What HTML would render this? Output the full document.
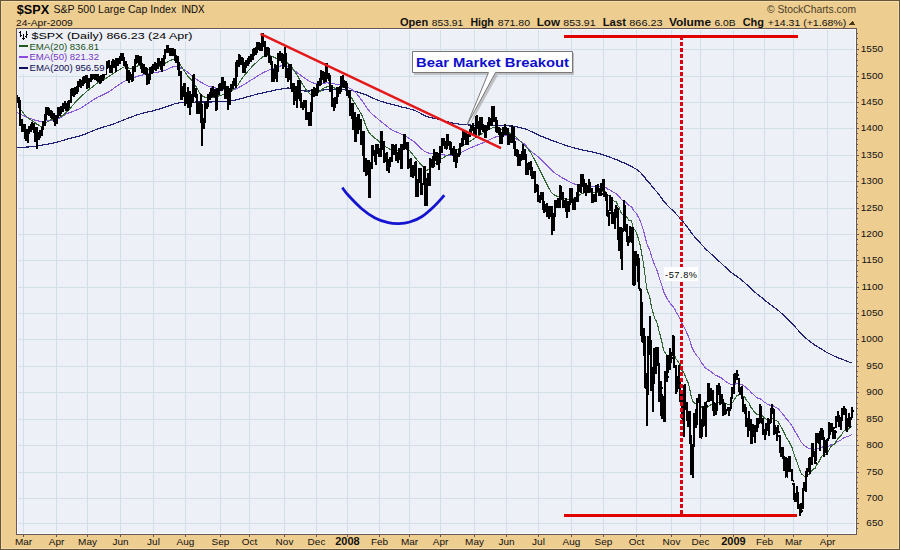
<!DOCTYPE html><html><head><meta charset="utf-8"><title>SPX</title><style>
html,body{margin:0;padding:0;width:900px;height:550px;overflow:hidden;background:#EECD90}
svg{display:block}text{font-family:"Liberation Sans",sans-serif}
</style></head><body>
<svg width="900" height="550" viewBox="0 0 900 550" shape-rendering="crispEdges">
<rect x="0" y="0" width="900" height="550" fill="#EECD90"/>
<rect x="0" y="1" width="900" height="1" fill="#F3DDA8"/>
<rect x="898" y="0" width="1" height="550" fill="#F2DCAE"/>
<rect x="1" y="0" width="1" height="550" fill="#F2D8A4"/>
<rect x="0" y="548" width="900" height="1" fill="#F2DCAE"/>
<rect x="0" y="0" width="900" height="1" fill="#64543A"/>
<rect x="0" y="0" width="1" height="550" fill="#64543A"/>
<rect x="899" y="0" width="1" height="550" fill="#64543A"/>
<rect x="0" y="549" width="900" height="1" fill="#64543A"/>
<rect x="16" y="28" width="841" height="507" fill="#EEF0F8"/>
<path d="M17 523.5H856M17 498.5H856M17 472.5H856M17 445.5H856M17 419.5H856M17 392.5H856M17 366.5H856M17 339.5H856M17 313.5H856M17 287.5H856M17 260.5H856M17 234.5H856M17 208.5H856M17 181.5H856M17 155.5H856M17 128.5H856M17 102.5H856M17 76.5H856M17 49.5H856M23.5 29V534M56.5 29V534M87.5 29V534M120.5 29V534M153.5 29V534M185.5 29V534M220.5 29V534M249.5 29V534M284.5 29V534M316.5 29V534M347.5 29V534M379.5 29V534M409.5 29V534M440.5 29V534M474.5 29V534M506.5 29V534M538.5 29V534M571.5 29V534M603.5 29V534M636.5 29V534M671.5 29V534M700.5 29V534M733.5 29V534M764.5 29V534M793.5 29V534M827.5 29V534" stroke="#D2DEE8" stroke-width="1" fill="none"/>
<path d="M17.5 29V533M17 29.5H856M855.5 29V533M17 533.5H856" stroke="#FAFAFF" stroke-width="1" fill="none"/>
<rect x="16.5" y="28.5" width="840" height="506" fill="none" stroke="#66575A" stroke-width="1"/>
<path d="M857 528.5h1M857 523.5h2M857 518.5h1M857 513.5h1M857 508.5h1M857 503.5h1M857 498.5h2M857 493.5h1M857 488.5h1M857 482.5h1M857 477.5h1M857 472.5h2M857 467.5h1M857 461.5h1M857 456.5h1M857 450.5h1M857 445.5h2M857 440.5h1M857 435.5h1M857 429.5h1M857 424.5h1M857 419.5h2M857 414.5h1M857 408.5h1M857 403.5h1M857 397.5h1M857 392.5h2M857 387.5h1M857 382.5h1M857 376.5h1M857 371.5h1M857 366.5h2M857 361.5h1M857 355.5h1M857 350.5h1M857 344.5h1M857 339.5h2M857 334.5h1M857 329.5h1M857 323.5h1M857 318.5h1M857 313.5h2M857 308.5h1M857 303.5h1M857 297.5h1M857 292.5h1M857 287.5h2M857 282.5h1M857 276.5h1M857 271.5h1M857 265.5h1M857 260.5h2M857 255.5h1M857 250.5h1M857 244.5h1M857 239.5h1M857 234.5h2M857 229.5h1M857 224.5h1M857 218.5h1M857 213.5h1M857 208.5h2M857 203.5h1M857 197.5h1M857 192.5h1M857 186.5h1M857 181.5h2M857 176.5h1M857 171.5h1M857 165.5h1M857 160.5h1M857 155.5h2M857 150.5h1M857 144.5h1M857 139.5h1M857 133.5h1M857 128.5h2M857 123.5h1M857 118.5h1M857 112.5h1M857 107.5h1M857 102.5h2M857 97.5h1M857 92.5h1M857 86.5h1M857 81.5h1M857 76.5h2M857 71.5h1M857 65.5h1M857 60.5h1M857 54.5h1M857 49.5h2M857 44.5h1M857 38.5h1M857 33.5h1M23.5 535v2M56.5 535v2M87.5 535v2M120.5 535v2M153.5 535v2M185.5 535v2M220.5 535v2M249.5 535v2M284.5 535v2M316.5 535v2M347.5 535v2M379.5 535v2M409.5 535v2M440.5 535v2M474.5 535v2M506.5 535v2M538.5 535v2M571.5 535v2M603.5 535v2M636.5 535v2M671.5 535v2M700.5 535v2M733.5 535v2M764.5 535v2M793.5 535v2M827.5 535v2" stroke="#66575A" stroke-width="1" fill="none"/>
<g font-size="10" fill="#111" text-anchor="end"><text transform="translate(883 526) scale(1 0.93)">650</text><text transform="translate(883 501) scale(1 0.93)">700</text><text transform="translate(883 475) scale(1 0.93)">750</text><text transform="translate(883 448) scale(1 0.93)">800</text><text transform="translate(883 422) scale(1 0.93)">850</text><text transform="translate(883 395) scale(1 0.93)">900</text><text transform="translate(883 369) scale(1 0.93)">950</text><text transform="translate(883 342) scale(1 0.93)">1000</text><text transform="translate(883 316) scale(1 0.93)">1050</text><text transform="translate(883 290) scale(1 0.93)">1100</text><text transform="translate(883 263) scale(1 0.93)">1150</text><text transform="translate(883 237) scale(1 0.93)">1200</text><text transform="translate(883 211) scale(1 0.93)">1250</text><text transform="translate(883 184) scale(1 0.93)">1300</text><text transform="translate(883 158) scale(1 0.93)">1350</text><text transform="translate(883 131) scale(1 0.93)">1400</text><text transform="translate(883 105) scale(1 0.93)">1450</text><text transform="translate(883 79) scale(1 0.93)">1500</text><text transform="translate(883 52) scale(1 0.93)">1550</text></g>
<g font-size="10" fill="#111"><text transform="translate(23.5 545) scale(1 0.9)" text-anchor="middle">Mar</text><text transform="translate(56.5 545) scale(1 0.9)" text-anchor="middle">Apr</text><text transform="translate(87.5 545) scale(1 0.9)" text-anchor="middle">May</text><text transform="translate(120.5 545) scale(1 0.9)" text-anchor="middle">Jun</text><text transform="translate(153.5 545) scale(1 0.9)" text-anchor="middle">Jul</text><text transform="translate(185.5 545) scale(1 0.9)" text-anchor="middle">Aug</text><text transform="translate(220.5 545) scale(1 0.9)" text-anchor="middle">Sep</text><text transform="translate(249.5 545) scale(1 0.9)" text-anchor="middle">Oct</text><text transform="translate(284.5 545) scale(1 0.9)" text-anchor="middle">Nov</text><text transform="translate(316.5 545) scale(1 0.9)" text-anchor="middle">Dec</text><text x="347.5" y="545" text-anchor="middle" font-weight="bold" font-size="11">2008</text><text transform="translate(379.5 545) scale(1 0.9)" text-anchor="middle">Feb</text><text transform="translate(409.5 545) scale(1 0.9)" text-anchor="middle">Mar</text><text transform="translate(440.5 545) scale(1 0.9)" text-anchor="middle">Apr</text><text transform="translate(474.5 545) scale(1 0.9)" text-anchor="middle">May</text><text transform="translate(506.5 545) scale(1 0.9)" text-anchor="middle">Jun</text><text transform="translate(538.5 545) scale(1 0.9)" text-anchor="middle">Jul</text><text transform="translate(571.5 545) scale(1 0.9)" text-anchor="middle">Aug</text><text transform="translate(603.5 545) scale(1 0.9)" text-anchor="middle">Sep</text><text transform="translate(636.5 545) scale(1 0.9)" text-anchor="middle">Oct</text><text transform="translate(671.5 545) scale(1 0.9)" text-anchor="middle">Nov</text><text transform="translate(700.5 545) scale(1 0.9)" text-anchor="middle">Dec</text><text x="733.5" y="545" text-anchor="middle" font-weight="bold" font-size="11">2009</text><text transform="translate(764.5 545) scale(1 0.9)" text-anchor="middle">Feb</text><text transform="translate(793.5 545) scale(1 0.9)" text-anchor="middle">Mar</text><text transform="translate(827.5 545) scale(1 0.9)" text-anchor="middle">Apr</text></g>
<defs><clipPath id="cc"><rect x="17" y="29" width="839" height="505"/></clipPath></defs>
<g clip-path="url(#cc)">
<path d="M16.00 147.80C19.00 147.57 28.33 147.08 34.00 146.40C39.67 145.72 46.22 144.38 50.00 143.70C53.78 143.02 53.37 143.20 56.70 142.30C60.03 141.40 65.78 139.47 70.00 138.30C74.22 137.13 77.55 136.80 82.00 135.30C86.45 133.80 91.48 131.18 96.70 129.30C101.92 127.42 108.30 125.77 113.30 124.00C118.30 122.23 122.25 120.37 126.70 118.70C131.15 117.03 135.57 115.33 140.00 114.00C144.43 112.67 149.13 111.82 153.30 110.70C157.47 109.58 161.38 108.47 165.00 107.30C168.62 106.13 171.88 104.53 175.00 103.70C178.12 102.87 180.37 102.57 183.70 102.30C187.03 102.03 189.62 102.18 195.00 102.10C200.38 102.02 209.50 102.08 216.00 101.80C222.50 101.52 228.40 101.33 234.00 100.40C239.60 99.47 244.57 97.52 249.60 96.20C254.63 94.88 258.13 93.83 264.20 92.50C270.27 91.17 281.62 88.83 286.00 88.20C290.38 87.57 287.33 88.23 290.50 88.70C293.67 89.17 300.15 90.75 305.00 91.00C309.85 91.25 314.73 90.45 319.60 90.20C324.47 89.95 329.35 89.50 334.20 89.50C339.05 89.50 345.07 89.85 348.70 90.20C352.33 90.55 353.28 90.88 356.00 91.60C358.72 92.32 361.00 92.93 365.00 94.50C369.00 96.07 374.17 99.00 380.00 101.00C385.83 103.00 394.17 104.92 400.00 106.50C405.83 108.08 410.67 108.88 415.00 110.50C419.33 112.12 421.75 114.65 426.00 116.20C430.25 117.75 435.67 118.58 440.50 119.80C445.33 121.02 450.15 122.63 455.00 123.50C459.85 124.37 464.73 124.65 469.60 125.00C474.47 125.35 477.38 125.43 484.20 125.60C491.02 125.77 503.70 125.45 510.50 126.00C517.30 126.55 520.15 127.32 525.00 128.90C529.85 130.48 534.73 133.43 539.60 135.50C544.47 137.57 548.13 139.13 554.20 141.30C560.27 143.47 569.20 146.63 576.00 148.50C582.80 150.37 590.33 151.37 595.00 152.50C599.67 153.63 602.27 154.76 604.03 155.29C605.79 155.82 605.05 155.52 605.56 155.69C606.07 155.85 606.58 156.08 607.09 156.27C607.60 156.46 608.11 156.66 608.62 156.83C609.13 156.99 609.64 157.07 610.15 157.24C610.65 157.42 611.16 157.67 611.67 157.88C612.18 158.08 612.69 158.28 613.20 158.46C613.71 158.64 614.22 158.80 614.73 158.96C615.24 159.12 615.75 159.22 616.26 159.43C616.77 159.64 617.28 159.96 617.79 160.20C618.30 160.44 618.81 160.59 619.32 160.86C619.82 161.13 620.33 161.54 620.84 161.81C621.35 162.08 621.86 162.30 622.37 162.49C622.88 162.67 623.39 162.73 623.90 162.91C624.41 163.09 624.92 163.34 625.43 163.57C625.94 163.81 626.45 164.08 626.96 164.33C627.47 164.59 627.98 164.86 628.49 165.09C628.99 165.32 629.50 165.52 630.01 165.72C630.52 165.93 631.03 166.04 631.54 166.33C632.05 166.62 632.56 167.15 633.07 167.48C633.58 167.82 634.09 168.04 634.60 168.32C635.11 168.60 635.62 168.84 636.13 169.17C636.64 169.49 637.15 169.88 637.66 170.25C638.16 170.63 638.67 170.99 639.18 171.40C639.69 171.82 640.20 172.26 640.71 172.77C641.22 173.27 641.73 173.87 642.24 174.43C642.75 174.99 643.26 175.50 643.77 176.13C644.28 176.76 644.79 177.50 645.30 178.20C645.81 178.90 646.32 179.69 646.83 180.31C647.33 180.92 647.84 181.34 648.35 181.87C648.86 182.40 649.37 182.87 649.88 183.49C650.39 184.11 650.90 184.92 651.41 185.58C651.92 186.24 652.43 186.82 652.94 187.44C653.45 188.06 653.96 188.73 654.47 189.32C654.98 189.90 655.49 190.37 656.00 190.93C656.51 191.49 657.01 192.05 657.52 192.69C658.03 193.33 658.54 194.08 659.05 194.75C659.56 195.42 660.07 196.04 660.58 196.72C661.09 197.40 661.60 198.11 662.11 198.84C662.62 199.57 663.13 200.43 663.64 201.10C664.15 201.76 664.66 202.25 665.17 202.83C665.68 203.42 666.18 204.04 666.69 204.61C667.20 205.17 667.71 205.71 668.22 206.24C668.73 206.76 669.24 207.26 669.75 207.77C670.26 208.27 670.77 208.81 671.28 209.27C671.79 209.73 672.30 210.07 672.81 210.53C673.32 211.00 673.83 211.51 674.34 212.05C674.85 212.60 675.35 213.25 675.86 213.81C676.37 214.37 676.88 214.87 677.39 215.41C677.90 215.95 678.41 216.49 678.92 217.05C679.43 217.62 679.94 218.18 680.45 218.79C680.96 219.41 681.47 220.15 681.98 220.75C682.49 221.35 683.00 221.81 683.51 222.38C684.02 222.95 684.52 223.57 685.03 224.19C685.54 224.81 686.05 225.48 686.56 226.11C687.07 226.73 687.58 227.30 688.09 227.95C688.60 228.61 689.11 229.31 689.62 230.06C690.13 230.80 690.64 231.68 691.15 232.42C691.66 233.16 692.17 233.86 692.68 234.51C693.19 235.16 693.69 235.72 694.20 236.32C694.71 236.91 695.22 237.52 695.73 238.07C696.24 238.63 696.75 239.14 697.26 239.66C697.77 240.17 698.28 240.60 698.79 241.18C699.30 241.75 699.81 242.49 700.32 243.10C700.83 243.71 701.34 244.27 701.85 244.83C702.36 245.39 702.86 245.88 703.37 246.43C703.88 246.99 704.39 247.61 704.90 248.15C705.41 248.70 705.92 249.21 706.43 249.69C706.94 250.18 707.45 250.58 707.96 251.05C708.47 251.51 708.98 252.03 709.49 252.50C710.00 252.97 710.51 253.40 711.02 253.88C711.53 254.35 712.04 254.88 712.54 255.37C713.05 255.87 713.56 256.33 714.07 256.82C714.58 257.31 715.09 257.86 715.60 258.32C716.11 258.78 716.62 259.14 717.13 259.57C717.64 259.99 718.15 260.41 718.66 260.86C719.17 261.31 719.68 261.81 720.19 262.28C720.70 262.75 721.21 263.20 721.71 263.68C722.22 264.15 722.73 264.65 723.24 265.14C723.75 265.63 724.26 266.14 724.77 266.64C725.28 267.13 725.79 267.61 726.30 268.09C726.81 268.57 727.32 269.03 727.83 269.50C728.34 269.97 728.85 270.47 729.36 270.92C729.87 271.37 730.38 271.80 730.88 272.22C731.39 272.63 731.90 273.05 732.41 273.43C732.92 273.80 733.43 274.12 733.94 274.47C734.45 274.82 734.96 275.18 735.47 275.53C735.98 275.87 736.49 276.18 737.00 276.53C737.51 276.89 738.02 277.30 738.53 277.68C739.04 278.06 739.55 278.41 740.05 278.80C740.56 279.19 741.07 279.59 741.58 280.01C742.09 280.43 742.60 280.89 743.11 281.32C743.62 281.75 744.13 282.15 744.64 282.61C745.15 283.06 745.66 283.57 746.17 284.04C746.68 284.51 747.19 284.99 747.70 285.45C748.21 285.91 748.72 286.33 749.22 286.81C749.73 287.30 750.24 287.89 750.75 288.37C751.26 288.85 751.77 289.26 752.28 289.71C752.79 290.16 753.30 290.64 753.81 291.09C754.32 291.55 754.83 292.00 755.34 292.45C755.85 292.89 756.36 293.33 756.87 293.76C757.38 294.19 757.89 294.63 758.40 295.02C758.90 295.41 759.41 295.73 759.92 296.11C760.43 296.50 760.94 296.92 761.45 297.35C761.96 297.77 762.47 298.23 762.98 298.67C763.49 299.11 764.00 299.55 764.51 299.98C765.02 300.40 765.53 300.80 766.04 301.21C766.55 301.62 767.06 302.06 767.57 302.46C768.07 302.86 768.58 303.26 769.09 303.63C769.60 304.00 770.11 304.33 770.62 304.67C771.13 305.01 771.64 305.31 772.15 305.69C772.66 306.07 773.17 306.52 773.68 306.92C774.19 307.32 774.70 307.72 775.21 308.11C775.72 308.50 776.23 308.88 776.74 309.28C777.24 309.67 777.75 310.05 778.26 310.48C778.77 310.91 779.28 311.40 779.79 311.86C780.30 312.32 780.81 312.77 781.32 313.23C781.83 313.69 782.34 314.16 782.85 314.63C783.36 315.11 783.87 315.57 784.38 316.07C784.89 316.57 785.40 317.14 785.91 317.63C786.41 318.13 786.92 318.56 787.43 319.03C787.94 319.50 788.45 319.97 788.96 320.45C789.47 320.93 789.98 321.42 790.49 321.92C791.00 322.42 791.51 322.92 792.02 323.47C792.53 324.01 793.04 324.61 793.55 325.18C794.06 325.75 794.57 326.34 795.08 326.89C795.58 327.45 796.09 327.95 796.60 328.51C797.11 329.07 797.62 329.68 798.13 330.26C798.64 330.84 799.15 331.42 799.66 331.99C800.17 332.57 800.68 333.20 801.19 333.74C801.70 334.28 802.21 334.75 802.72 335.25C803.23 335.75 803.74 336.27 804.25 336.73C804.75 337.20 805.26 337.62 805.77 338.05C806.28 338.48 806.79 338.89 807.30 339.32C807.81 339.75 808.32 340.23 808.83 340.64C809.34 341.06 809.85 341.45 810.36 341.82C810.87 342.20 811.38 342.53 811.89 342.90C812.40 343.27 812.91 343.64 813.42 344.03C813.93 344.42 814.43 344.88 814.94 345.23C815.45 345.57 815.96 345.81 816.47 346.12C816.98 346.43 817.49 346.78 818.00 347.10C818.51 347.41 819.02 347.73 819.53 348.02C820.04 348.31 820.55 348.55 821.06 348.84C821.57 349.12 822.08 349.41 822.59 349.73C823.10 350.06 823.60 350.44 824.11 350.77C824.62 351.11 825.13 351.43 825.64 351.74C826.15 352.05 826.66 352.36 827.17 352.64C827.68 352.91 828.19 353.15 828.70 353.40C829.21 353.64 829.72 353.86 830.23 354.10C830.74 354.35 831.25 354.58 831.76 354.85C832.27 355.11 832.77 355.42 833.28 355.69C833.79 355.96 834.30 356.23 834.81 356.46C835.32 356.69 835.83 356.87 836.34 357.07C836.85 357.26 837.36 357.44 837.87 357.65C838.38 357.86 838.89 358.11 839.40 358.32C839.91 358.53 840.42 358.74 840.93 358.93C841.44 359.12 841.94 359.29 842.45 359.46C842.96 359.63 843.47 359.76 843.98 359.96C844.49 360.16 845.00 360.44 845.51 360.66C846.02 360.87 846.53 361.04 847.04 361.25C847.55 361.45 848.06 361.67 848.57 361.87C849.08 362.07 849.59 362.27 850.10 362.45C850.61 362.63 851.37 362.86 851.62 362.94" fill="none" stroke="#222272" stroke-width="1.2" shape-rendering="crispEdges"/>
<path d="M16.00 112.20C17.82 113.02 23.27 115.65 26.90 117.10C30.53 118.55 34.53 120.27 37.80 120.90C41.07 121.53 42.87 121.35 46.50 120.90C50.13 120.45 56.35 119.35 59.60 118.20C62.85 117.05 62.60 115.62 66.00 114.00C69.40 112.38 75.08 111.08 80.00 108.50C84.92 105.92 90.83 101.22 95.50 98.50C100.17 95.78 103.75 94.73 108.00 92.20C112.25 89.67 117.83 85.33 121.00 83.30C124.17 81.27 123.83 81.28 127.00 80.00C130.17 78.72 136.08 76.68 140.00 75.60C143.92 74.52 146.33 74.35 150.50 73.50C154.67 72.65 161.35 71.58 165.00 70.50C168.65 69.42 169.97 67.48 172.40 67.00C174.83 66.52 177.17 66.85 179.60 67.60C182.03 68.35 184.87 70.03 187.00 71.50C189.13 72.97 189.98 74.57 192.40 76.40C194.82 78.23 198.78 80.87 201.50 82.50C204.22 84.13 205.32 85.10 208.70 86.20C212.08 87.30 217.43 88.60 221.80 89.10C226.17 89.60 230.27 90.55 234.90 89.20C239.53 87.85 244.72 83.83 249.60 81.00C254.48 78.17 259.35 74.63 264.20 72.20C269.05 69.77 275.28 67.40 278.70 66.40C282.12 65.40 282.73 66.00 284.70 66.20C286.67 66.40 287.12 65.55 290.50 67.60C293.88 69.65 300.87 75.83 305.00 78.50C309.13 81.17 311.65 82.87 315.30 83.60C318.95 84.33 323.28 82.77 326.90 82.90C330.52 83.03 333.85 83.80 337.00 84.40C340.15 85.00 342.80 85.23 345.80 86.50C348.80 87.77 352.13 89.42 355.00 92.00C357.87 94.58 360.50 98.67 363.00 102.00C365.50 105.33 367.50 109.17 370.00 112.00C372.50 114.83 375.67 117.00 378.00 119.00C380.33 121.00 381.60 122.13 384.00 124.00C386.40 125.87 389.07 128.32 392.40 130.20C395.73 132.08 400.37 133.37 404.00 135.30C407.63 137.23 410.57 139.02 414.20 141.80C417.83 144.58 421.42 149.85 425.80 152.00C430.18 154.15 435.63 154.25 440.50 154.70C445.37 155.15 450.15 155.78 455.00 154.70C459.85 153.62 464.73 150.25 469.60 148.20C474.47 146.15 479.80 144.28 484.20 142.40C488.60 140.52 491.62 137.93 496.00 136.90C500.38 135.87 506.87 135.72 510.50 136.20C514.13 136.68 515.38 138.42 517.80 139.80C520.22 141.18 522.97 142.72 525.00 144.50C527.03 146.28 527.57 148.25 530.00 150.50C532.43 152.75 535.57 154.33 539.60 158.00C543.63 161.67 549.35 168.62 554.20 172.50C559.05 176.38 564.92 179.27 568.70 181.30C572.48 183.33 573.10 183.88 576.90 184.70C580.70 185.52 586.98 185.79 591.50 186.20C596.02 186.61 601.69 186.96 604.03 187.18C606.37 187.39 605.05 187.24 605.56 187.48C606.07 187.72 606.58 188.26 607.09 188.60C607.60 188.95 608.11 189.33 608.62 189.55C609.13 189.77 609.64 189.66 610.15 189.94C610.65 190.21 611.16 190.82 611.67 191.21C612.18 191.60 612.69 191.99 613.20 192.27C613.71 192.56 614.22 192.73 614.73 192.93C615.24 193.14 615.75 193.11 616.26 193.50C616.77 193.89 617.28 194.78 617.79 195.29C618.30 195.81 618.81 195.95 619.32 196.57C619.82 197.20 620.33 198.41 620.84 199.03C621.35 199.66 621.86 200.07 622.37 200.31C622.88 200.56 623.39 200.29 623.90 200.53C624.41 200.77 624.92 201.29 625.43 201.75C625.94 202.22 626.45 202.81 626.96 203.33C627.47 203.85 627.98 204.46 628.49 204.89C628.99 205.31 629.50 205.56 630.01 205.88C630.52 206.19 631.03 206.10 631.54 206.76C632.05 207.42 632.56 209.04 633.07 209.83C633.58 210.62 634.09 210.93 634.60 211.49C635.11 212.05 635.62 212.47 636.13 213.19C636.64 213.90 637.15 214.88 637.66 215.78C638.16 216.67 638.67 217.51 639.18 218.57C639.69 219.63 640.20 220.77 640.71 222.13C641.22 223.50 641.73 225.22 642.24 226.78C642.75 228.33 643.26 229.68 643.77 231.46C644.28 233.25 644.79 235.49 645.30 237.50C645.81 239.51 646.32 241.90 646.83 243.52C647.33 245.13 647.84 245.97 648.35 247.18C648.86 248.40 649.37 249.31 649.88 250.80C650.39 252.30 650.90 254.53 651.41 256.14C651.92 257.75 652.43 259.01 652.94 260.47C653.45 261.93 653.96 263.62 654.47 264.92C654.98 266.21 655.49 267.05 656.00 268.24C656.51 269.43 657.01 270.61 657.52 272.06C658.03 273.52 658.54 275.43 659.05 276.99C659.56 278.55 660.07 279.88 660.58 281.45C661.09 283.02 661.60 284.71 662.11 286.41C662.62 288.10 663.13 290.24 663.64 291.63C664.15 293.01 664.66 293.66 665.17 294.71C665.68 295.75 666.18 296.93 666.69 297.89C667.20 298.85 667.71 299.67 668.22 300.46C668.73 301.25 669.24 301.91 669.75 302.62C670.26 303.34 670.77 304.20 671.28 304.76C671.79 305.33 672.30 305.43 672.81 306.02C673.32 306.62 673.83 307.40 674.34 308.32C674.85 309.23 675.35 310.54 675.86 311.50C676.37 312.45 676.88 313.16 677.39 314.02C677.90 314.88 678.41 315.73 678.92 316.67C679.43 317.61 679.94 318.52 680.45 319.65C680.96 320.78 681.47 322.40 681.98 323.44C682.49 324.48 683.00 324.96 683.51 325.89C684.02 326.82 684.52 327.91 685.03 329.01C685.54 330.11 686.05 331.38 686.56 332.48C687.07 333.59 687.58 334.42 688.09 335.63C688.60 336.84 689.11 338.19 689.62 339.75C690.13 341.31 690.64 343.45 691.15 344.99C691.66 346.54 692.17 347.88 692.68 349.01C693.19 350.15 693.69 350.91 694.20 351.79C694.71 352.68 695.22 353.61 695.73 354.34C696.24 355.07 696.75 355.59 697.26 356.15C697.77 356.71 698.28 356.91 698.79 357.70C699.30 358.49 699.81 359.96 700.32 360.88C700.83 361.81 701.34 362.55 701.85 363.24C702.36 363.94 702.86 364.39 703.37 365.06C703.88 365.74 704.39 366.69 704.90 367.31C705.41 367.93 705.92 368.42 706.43 368.79C706.94 369.16 707.45 369.22 707.96 369.54C708.47 369.85 708.98 370.34 709.49 370.68C710.00 371.02 710.51 371.18 711.02 371.56C711.53 371.93 712.04 372.50 712.54 372.93C713.05 373.35 713.56 373.68 714.07 374.10C714.58 374.53 715.09 375.18 715.60 375.48C716.11 375.77 716.62 375.72 717.13 375.88C717.64 376.04 718.15 376.20 718.66 376.45C719.17 376.70 719.68 377.09 720.19 377.39C720.70 377.69 721.21 377.91 721.71 378.24C722.22 378.58 722.73 378.97 723.24 379.37C723.75 379.77 724.26 380.25 724.77 380.64C725.28 381.04 725.79 381.41 726.30 381.76C726.81 382.11 727.32 382.40 727.83 382.73C728.34 383.06 728.85 383.49 729.36 383.75C729.87 384.01 730.38 384.16 730.88 384.30C731.39 384.43 731.90 384.57 732.41 384.56C732.92 384.54 733.43 384.31 733.94 384.21C734.45 384.12 734.96 384.09 735.47 383.99C735.98 383.89 736.49 383.64 737.00 383.61C737.51 383.58 738.02 383.76 738.53 383.81C739.04 383.87 739.55 383.84 740.05 383.95C740.56 384.06 741.07 384.25 741.58 384.49C742.09 384.73 742.60 385.10 743.11 385.40C743.62 385.69 744.13 385.87 744.64 386.25C745.15 386.63 745.66 387.21 746.17 387.67C746.68 388.13 747.19 388.59 747.70 389.01C748.21 389.42 748.72 389.63 749.22 390.16C749.73 390.69 750.24 391.64 750.75 392.19C751.26 392.74 751.77 393.00 752.28 393.46C752.79 393.92 753.30 394.48 753.81 394.95C754.32 395.42 754.83 395.87 755.34 396.29C755.85 396.72 756.36 397.14 756.87 397.50C757.38 397.86 757.89 398.25 758.40 398.47C758.90 398.68 759.41 398.58 759.92 398.78C760.43 398.99 760.94 399.34 761.45 399.70C761.96 400.07 762.47 400.56 762.98 400.99C763.49 401.41 764.00 401.88 764.51 402.24C765.02 402.61 765.53 402.85 766.04 403.17C766.55 403.50 767.06 403.91 767.57 404.20C768.07 404.48 768.58 404.75 769.09 404.90C769.60 405.05 770.11 405.04 770.62 405.09C771.13 405.15 771.64 405.04 772.15 405.23C772.66 405.43 773.17 405.96 773.68 406.28C774.19 406.60 774.70 406.88 775.21 407.16C775.72 407.44 776.23 407.67 776.74 407.96C777.24 408.25 777.75 408.48 778.26 408.92C778.77 409.37 779.28 410.07 779.79 410.63C780.30 411.19 780.81 411.71 781.32 412.29C781.83 412.86 782.34 413.46 782.85 414.08C783.36 414.69 783.87 415.26 784.38 415.98C784.89 416.70 785.40 417.71 785.91 418.39C786.41 419.06 786.92 419.47 787.43 420.04C787.94 420.60 788.45 421.17 788.96 421.77C789.47 422.38 789.98 422.98 790.49 423.66C791.00 424.34 791.51 425.01 792.02 425.84C792.53 426.67 793.04 427.72 793.55 428.65C794.06 429.58 794.57 430.58 795.08 431.43C795.58 432.29 796.09 432.91 796.60 433.78C797.11 434.65 797.62 435.71 798.13 436.65C798.64 437.58 799.15 438.47 799.66 439.38C800.17 440.29 800.68 441.38 801.19 442.13C801.70 442.88 802.21 443.32 802.72 443.89C803.23 444.46 803.74 445.12 804.25 445.57C804.75 446.02 805.26 446.29 805.77 446.60C806.28 446.92 806.79 447.17 807.30 447.47C807.81 447.77 808.32 448.18 808.83 448.39C809.34 448.60 809.85 448.69 810.36 448.74C810.87 448.80 811.38 448.69 811.89 448.72C812.40 448.75 812.91 448.81 813.42 448.93C813.93 449.05 814.43 449.47 814.94 449.45C815.45 449.43 815.96 448.96 816.47 448.81C816.98 448.66 817.49 448.67 818.00 448.56C818.51 448.44 819.02 448.34 819.53 448.14C820.04 447.94 820.55 447.56 821.06 447.36C821.57 447.16 822.08 446.98 822.59 446.95C823.10 446.91 823.60 447.11 824.11 447.14C824.62 447.17 825.13 447.17 825.64 447.12C826.15 447.07 826.66 447.00 827.17 446.82C827.68 446.65 828.19 446.33 828.70 446.05C829.21 445.77 829.72 445.40 830.23 445.13C830.74 444.86 831.25 444.60 831.76 444.44C832.27 444.27 832.77 444.29 833.28 444.17C833.79 444.05 834.30 443.95 834.81 443.69C835.32 443.43 835.83 442.98 836.34 442.62C836.85 442.27 837.36 441.85 837.87 441.55C838.38 441.26 838.89 441.11 839.40 440.85C839.91 440.59 840.42 440.31 840.93 439.97C841.44 439.64 841.94 439.23 842.45 438.84C842.96 438.46 843.47 437.93 843.98 437.68C844.49 437.42 845.00 437.51 845.51 437.33C846.02 437.15 846.53 436.82 847.04 436.61C847.55 436.40 848.06 436.28 848.57 436.08C849.08 435.88 849.59 435.68 850.10 435.41C850.61 435.14 851.37 434.62 851.62 434.46" fill="none" stroke="#8858DA" stroke-width="1.1" shape-rendering="crispEdges"/>
<path d="M18.20 105.00C18.75 105.92 20.05 108.48 21.50 110.50C22.95 112.52 25.08 115.37 26.90 117.10C28.72 118.83 30.58 119.63 32.40 120.90C34.22 122.17 36.17 123.78 37.80 124.70C39.43 125.62 40.75 126.77 42.20 126.40C43.65 126.03 44.87 123.68 46.50 122.50C48.13 121.32 49.82 120.20 52.00 119.30C54.18 118.40 57.27 118.20 59.60 117.10C61.93 116.00 62.52 116.05 66.00 112.70C69.48 109.35 75.58 101.70 80.50 97.00C85.42 92.30 90.92 87.83 95.50 84.50C100.08 81.17 103.13 79.97 108.00 77.00C112.87 74.03 121.07 68.10 124.70 66.70C128.33 65.30 127.25 68.80 129.80 68.60C132.35 68.40 137.52 65.43 140.00 65.50C142.48 65.57 142.95 68.28 144.70 69.00C146.45 69.72 148.32 70.15 150.50 69.80C152.68 69.45 155.38 67.98 157.80 66.90C160.22 65.82 162.57 64.52 165.00 63.30C167.43 62.08 170.45 60.08 172.40 59.60C174.35 59.12 175.25 59.30 176.70 60.40C178.15 61.50 179.40 63.78 181.10 66.20C182.80 68.62 184.72 72.00 186.90 74.90C189.08 77.80 191.77 80.20 194.20 83.60C196.63 87.00 199.08 92.98 201.50 95.30C203.92 97.62 205.53 97.47 208.70 97.50C211.87 97.53 216.12 97.05 220.50 95.50C224.88 93.95 231.35 91.12 235.00 88.20C238.65 85.28 239.97 81.15 242.40 78.00C244.83 74.85 247.18 71.97 249.60 69.30C252.02 66.63 254.47 64.18 256.90 62.00C259.33 59.82 261.77 57.17 264.20 56.20C266.63 55.23 269.08 55.60 271.50 56.20C273.92 56.80 276.73 59.10 278.70 59.80C280.67 60.50 281.33 59.45 283.30 60.40C285.27 61.35 288.08 62.83 290.50 65.50C292.92 68.17 295.38 72.65 297.80 76.40C300.22 80.15 302.82 84.98 305.00 88.00C307.18 91.02 308.95 93.53 310.90 94.50C312.85 95.47 314.52 94.88 316.70 93.80C318.88 92.72 321.82 89.22 324.00 88.00C326.18 86.78 327.62 86.38 329.80 86.50C331.98 86.62 334.43 88.45 337.10 88.70C339.77 88.95 343.20 86.12 345.80 88.00C348.40 89.88 350.08 95.58 352.70 100.00C355.32 104.42 358.83 109.17 361.50 114.50C364.17 119.83 365.98 127.68 368.70 132.00C371.42 136.32 375.07 138.03 377.80 140.40C380.53 142.77 382.67 144.52 385.10 146.20C387.53 147.88 389.98 149.90 392.40 150.50C394.82 151.10 397.18 150.15 399.60 149.80C402.02 149.45 404.47 147.30 406.90 148.40C409.33 149.50 411.77 153.62 414.20 156.40C416.63 159.18 419.32 162.80 421.50 165.10C423.68 167.40 424.13 171.13 427.30 170.20C430.47 169.27 435.88 162.70 440.50 159.50C445.12 156.30 450.15 154.00 455.00 151.00C459.85 148.00 465.77 143.95 469.60 141.50C473.43 139.05 474.43 138.50 478.00 136.30C481.57 134.10 487.83 129.75 491.00 128.30C494.17 126.85 494.57 127.10 497.00 127.60C499.43 128.10 502.72 129.97 505.60 131.30C508.48 132.63 511.57 133.65 514.30 135.60C517.03 137.55 519.38 140.33 522.00 143.00C524.62 145.67 527.07 147.17 530.00 151.60C532.93 156.03 536.78 164.17 539.60 169.60C542.42 175.03 544.80 180.22 546.90 184.20C549.00 188.18 550.10 191.35 552.20 193.50C554.30 195.65 557.08 196.13 559.50 197.10C561.92 198.07 564.28 199.07 566.70 199.30C569.12 199.53 571.08 199.60 574.00 198.50C576.92 197.40 580.08 193.67 584.20 192.70C588.32 191.73 595.39 192.90 598.70 192.70C602.01 192.50 602.89 191.63 604.03 191.48C605.17 191.33 605.05 191.37 605.56 191.81C606.07 192.25 606.58 193.44 607.09 194.12C607.60 194.80 608.11 195.55 608.62 195.90C609.13 196.25 609.64 195.76 610.15 196.23C610.65 196.70 611.16 198.01 611.67 198.73C612.18 199.46 612.69 200.15 613.20 200.59C613.71 201.03 614.22 201.16 614.73 201.39C615.24 201.62 615.75 201.28 616.26 201.97C616.77 202.66 617.28 204.57 617.79 205.52C618.30 206.47 618.81 206.51 619.32 207.66C619.82 208.81 620.33 211.33 620.84 212.42C621.35 213.51 621.86 214.02 622.37 214.18C622.88 214.34 623.39 213.24 623.90 213.39C624.41 213.53 624.92 214.37 625.43 215.05C625.94 215.74 626.45 216.71 626.96 217.50C627.47 218.29 627.98 219.28 628.49 219.81C628.99 220.35 629.50 220.45 630.01 220.72C630.52 220.98 631.03 220.29 631.54 221.38C632.05 222.48 632.56 225.91 633.07 227.29C633.58 228.67 634.09 228.87 634.60 229.66C635.11 230.45 635.62 230.90 636.13 232.05C636.64 233.20 637.15 234.99 637.66 236.54C638.16 238.09 638.67 239.47 639.18 241.35C639.69 243.23 640.20 245.28 640.71 247.83C641.22 250.38 641.73 253.74 642.24 256.66C642.75 259.59 643.26 261.95 643.77 265.38C644.28 268.81 644.79 273.40 645.30 277.26C645.81 281.12 646.32 285.87 646.83 288.53C647.33 291.19 647.84 291.70 648.35 293.24C648.86 294.77 649.37 295.56 649.88 297.74C650.39 299.92 650.90 303.92 651.41 306.32C651.92 308.73 652.43 310.26 652.94 312.16C653.45 314.06 653.96 316.34 654.47 317.73C654.98 319.13 655.49 319.41 656.00 320.55C656.51 321.69 657.01 322.82 657.52 324.58C658.03 326.35 658.54 329.18 659.05 331.15C659.56 333.13 660.07 334.49 660.58 336.46C661.09 338.42 661.60 340.63 662.11 342.97C662.62 345.30 663.13 348.87 663.64 350.45C664.15 352.03 664.66 351.72 665.17 352.44C665.68 353.17 666.18 354.27 666.69 354.81C667.20 355.36 667.71 355.56 668.22 355.72C668.73 355.88 669.24 355.73 669.75 355.77C670.26 355.81 670.77 356.24 671.28 355.97C671.79 355.70 672.30 354.27 672.81 354.14C673.32 354.02 673.83 354.46 674.34 355.22C674.85 355.97 675.35 357.79 675.86 358.66C676.37 359.53 676.88 359.77 677.39 360.43C677.90 361.09 678.41 361.73 678.92 362.60C679.43 363.47 679.94 364.31 680.45 365.65C680.96 366.98 681.47 369.53 681.98 370.61C682.49 371.70 683.00 371.35 683.51 372.15C684.02 372.95 684.52 374.20 685.03 375.43C685.54 376.66 686.05 378.30 686.56 379.53C687.07 380.76 687.58 381.32 688.09 382.80C688.60 384.27 689.11 386.13 689.62 388.37C690.13 390.61 690.64 394.13 691.15 396.24C691.66 398.34 692.17 399.94 692.68 401.02C693.19 402.11 693.69 402.24 694.20 402.73C694.71 403.22 695.22 403.83 695.73 403.97C696.24 404.10 696.75 403.76 697.26 403.54C697.77 403.33 698.28 402.28 698.79 402.70C699.30 403.12 699.81 405.27 700.32 406.05C700.83 406.83 701.34 407.14 701.85 407.38C702.36 407.62 702.86 407.25 703.37 407.51C703.88 407.76 704.39 408.73 704.90 408.90C705.41 409.08 705.92 408.96 706.43 408.58C706.94 408.19 707.45 407.04 707.96 406.58C708.47 406.13 708.98 406.18 709.49 405.86C710.00 405.53 710.51 404.80 711.02 404.64C711.53 404.47 712.04 404.86 712.54 404.87C713.05 404.88 713.56 404.67 714.07 404.72C714.58 404.78 715.09 405.44 715.60 405.20C716.11 404.97 716.62 403.84 717.13 403.32C717.64 402.81 718.15 402.32 718.66 402.09C719.17 401.86 719.68 402.01 720.19 401.95C720.70 401.88 721.21 401.66 721.71 401.72C722.22 401.77 722.73 402.02 723.24 402.28C723.75 402.53 724.26 402.98 724.77 403.25C725.28 403.51 725.79 403.72 726.30 403.87C726.81 404.03 727.32 404.05 727.83 404.18C728.34 404.31 728.85 404.69 729.36 404.66C729.87 404.63 730.38 404.33 730.88 404.02C731.39 403.70 731.90 403.41 732.41 402.76C732.92 402.12 733.43 400.93 733.94 400.14C734.45 399.35 734.96 398.77 735.47 398.02C735.98 397.28 736.49 396.20 737.00 395.70C737.51 395.20 738.02 395.27 738.53 395.03C739.04 394.80 739.55 394.35 740.05 394.28C740.56 394.21 741.07 394.35 741.58 394.62C742.09 394.90 742.60 395.51 743.11 395.91C743.62 396.31 744.13 396.42 744.64 397.03C745.15 397.64 745.66 398.79 746.17 399.58C746.68 400.37 747.19 401.14 747.70 401.78C748.21 402.43 748.72 402.55 749.22 403.47C749.73 404.39 750.24 406.39 750.75 407.31C751.26 408.23 751.77 408.35 752.28 408.99C752.79 409.62 753.30 410.48 753.81 411.12C754.32 411.76 754.83 412.33 755.34 412.84C755.85 413.36 756.36 413.85 756.87 414.20C757.38 414.55 757.89 414.97 758.40 414.96C758.90 414.95 759.41 414.16 759.92 414.16C760.43 414.15 760.94 414.52 761.45 414.92C761.96 415.33 762.47 416.06 762.98 416.59C763.49 417.13 764.00 417.77 764.51 418.16C765.02 418.54 765.53 418.62 766.04 418.90C766.55 419.19 767.06 419.67 767.57 419.87C768.07 420.07 768.58 420.21 769.09 420.08C769.60 419.96 770.11 419.45 770.62 419.12C771.13 418.80 771.64 418.08 772.15 418.13C772.66 418.18 773.17 419.08 773.68 419.44C774.19 419.80 774.70 420.04 775.21 420.29C775.72 420.54 776.23 420.67 776.74 420.96C777.24 421.25 777.75 421.37 778.26 422.01C778.77 422.65 779.28 423.90 779.79 424.79C780.30 425.68 780.81 426.47 781.32 427.36C781.83 428.25 782.34 429.17 782.85 430.13C783.36 431.08 783.87 431.92 784.38 433.08C784.89 434.23 785.40 436.06 785.91 437.08C786.41 438.11 786.92 438.47 787.43 439.22C787.94 439.97 788.45 440.75 788.96 441.60C789.47 442.45 789.98 443.28 790.49 444.30C791.00 445.32 791.51 446.32 792.02 447.72C792.53 449.11 793.04 451.05 793.55 452.65C794.06 454.25 794.57 455.97 795.08 457.32C795.58 458.66 796.09 459.38 796.60 460.72C797.11 462.05 797.62 463.88 798.13 465.34C798.64 466.79 799.15 468.11 799.66 469.46C800.17 470.82 800.68 472.57 801.19 473.47C801.70 474.37 802.21 474.43 802.72 474.86C803.23 475.30 803.74 475.94 804.25 476.07C804.75 476.21 805.26 475.86 805.77 475.68C806.28 475.51 806.79 475.21 807.30 475.03C807.81 474.86 808.32 474.97 808.83 474.64C809.34 474.31 809.85 473.71 810.36 473.05C810.87 472.40 811.38 471.36 811.89 470.71C812.40 470.05 812.91 469.50 813.42 469.13C813.93 468.76 814.43 469.14 814.94 468.47C815.45 467.80 815.96 466.03 816.47 465.10C816.98 464.18 817.49 463.69 818.00 462.93C818.51 462.17 819.02 461.46 819.53 460.55C820.04 459.64 820.55 458.31 821.06 457.47C821.57 456.63 822.08 455.89 822.59 455.51C823.10 455.12 823.60 455.36 824.11 455.17C824.62 454.98 825.13 454.72 825.64 454.35C826.15 453.98 826.66 453.59 827.17 452.94C827.68 452.30 828.19 451.34 828.70 450.49C829.21 449.63 829.72 448.58 830.23 447.80C830.74 447.01 831.25 446.25 831.76 445.78C832.27 445.31 832.77 445.34 833.28 445.00C833.79 444.66 834.30 444.40 834.81 443.76C835.32 443.12 835.83 442.00 836.34 441.15C836.85 440.31 837.36 439.34 837.87 438.69C838.38 438.05 838.89 437.80 839.40 437.26C839.91 436.73 840.42 436.16 840.93 435.47C841.44 434.79 841.94 433.93 842.45 433.16C842.96 432.39 843.47 431.28 843.98 430.87C844.49 430.45 845.00 430.89 845.51 430.68C846.02 430.46 846.53 429.85 847.04 429.56C847.55 429.27 848.06 429.21 848.57 428.95C849.08 428.69 849.59 428.43 850.10 428.00C850.61 427.57 851.37 426.66 851.62 426.39" fill="none" stroke="#336633" stroke-width="1.1" shape-rendering="crispEdges"/>
<path d="M16 95h2v8h-2zM15 100h1v2h-1zM18 98h1v2h-1zM18 97h2v11h-2zM17 99h1v2h-1zM20 103h1v2h-1zM19 100h2v26h-2zM18 102h1v2h-1zM21 119h1v2h-1zM21 119h2v13h-2zM20 121h1v2h-1zM23 130h1v2h-1zM22 124h2v8h-2zM21 126h1v2h-1zM24 124h1v2h-1zM24 124h2v15h-2zM23 128h1v2h-1zM26 133h1v2h-1zM25 129h2v12h-2zM24 136h1v2h-1zM27 140h1v2h-1zM27 129h2v14h-2zM26 130h1v2h-1zM29 132h1v2h-1zM28 126h2v8h-2zM27 133h1v2h-1zM30 127h1v2h-1zM30 124h2v8h-2zM29 127h1v2h-1zM32 127h1v2h-1zM31 122h2v8h-2zM30 128h1v2h-1zM33 125h1v2h-1zM33 123h2v10h-2zM32 124h1v2h-1zM35 131h1v2h-1zM34 127h2v15h-2zM33 129h1v2h-1zM36 141h1v2h-1zM36 127h2v22h-2zM35 128h1v2h-1zM38 135h1v2h-1zM38 132h2v8h-2zM37 137h1v2h-1zM40 136h1v2h-1zM39 130h2v8h-2zM38 135h1v2h-1zM41 131h1v2h-1zM41 127h2v9h-2zM40 134h1v2h-1zM43 127h1v2h-1zM42 121h2v9h-2zM41 128h1v2h-1zM44 122h1v2h-1zM44 114h2v12h-2zM43 124h1v2h-1zM46 114h1v2h-1zM45 107h2v13h-2zM44 118h1v2h-1zM47 109h1v2h-1zM47 107h2v8h-2zM46 109h1v2h-1zM49 113h1v2h-1zM48 108h2v8h-2zM47 112h1v2h-1zM50 110h1v2h-1zM50 110h2v8h-2zM49 111h1v2h-1zM52 116h1v2h-1zM51 111h2v8h-2zM50 114h1v2h-1zM53 114h1v2h-1zM53 113h2v9h-2zM52 115h1v2h-1zM55 120h1v2h-1zM54 115h2v11h-2zM53 116h1v2h-1zM56 118h1v2h-1zM56 115h2v9h-2zM55 122h1v2h-1zM58 116h1v2h-1zM57 107h2v11h-2zM56 115h1v2h-1zM59 108h1v2h-1zM59 107h2v9h-2zM58 114h1v2h-1zM61 109h1v2h-1zM60 106h2v8h-2zM59 109h1v2h-1zM62 110h1v2h-1zM62 103h2v9h-2zM61 110h1v2h-1zM64 104h1v2h-1zM64 101h2v8h-2zM63 106h1v2h-1zM66 106h1v2h-1zM65 103h2v8h-2zM64 105h1v2h-1zM67 109h1v2h-1zM67 101h2v10h-2zM66 107h1v2h-1zM69 101h1v2h-1zM68 100h2v8h-2zM67 106h1v2h-1zM70 101h1v2h-1zM70 89h2v14h-2zM69 101h1v2h-1zM72 92h1v2h-1zM71 88h2v8h-2zM70 92h1v2h-1zM73 94h1v2h-1zM73 88h2v9h-2zM72 94h1v2h-1zM75 88h1v2h-1zM74 87h2v8h-2zM73 93h1v2h-1zM76 89h1v2h-1zM76 86h2v8h-2zM75 88h1v2h-1zM78 90h1v2h-1zM77 81h2v11h-2zM76 90h1v2h-1zM79 82h1v2h-1zM79 79h2v8h-2zM78 83h1v2h-1zM81 84h1v2h-1zM80 80h2v8h-2zM79 84h1v2h-1zM82 83h1v2h-1zM82 77h2v9h-2zM81 84h1v2h-1zM84 79h1v2h-1zM83 76h2v8h-2zM82 78h1v2h-1zM85 81h1v2h-1zM85 75h2v8h-2zM84 81h1v2h-1zM87 80h1v2h-1zM86 75h2v14h-2zM85 77h1v2h-1zM88 82h1v2h-1zM88 78h2v10h-2zM87 87h1v2h-1zM90 79h1v2h-1zM90 74h2v8h-2zM89 79h1v2h-1zM92 76h1v2h-1zM91 72h2v8h-2zM90 77h1v2h-1zM93 74h1v2h-1zM93 71h2v8h-2zM92 74h1v2h-1zM95 75h1v2h-1zM94 72h2v8h-2zM93 75h1v2h-1zM96 77h1v2h-1zM96 73h2v8h-2zM95 76h1v2h-1zM98 77h1v2h-1zM97 74h2v8h-2zM96 77h1v2h-1zM99 79h1v2h-1zM99 76h2v8h-2zM98 78h1v2h-1zM101 80h1v2h-1zM100 75h2v8h-2zM99 79h1v2h-1zM102 78h1v2h-1zM102 73h2v8h-2zM101 79h1v2h-1zM104 75h1v2h-1zM103 70h2v8h-2zM102 76h1v2h-1zM105 72h1v2h-1zM105 64h2v11h-2zM104 73h1v2h-1zM107 64h1v2h-1zM106 61h2v8h-2zM105 68h1v2h-1zM108 64h1v2h-1zM108 60h2v8h-2zM107 62h1v2h-1zM110 66h1v2h-1zM109 65h2v8h-2zM108 66h1v2h-1zM111 71h1v2h-1zM111 61h2v12h-2zM110 68h1v2h-1zM113 62h1v2h-1zM112 59h2v9h-2zM111 67h1v2h-1zM114 63h1v2h-1zM114 60h2v8h-2zM113 61h1v2h-1zM116 67h1v2h-1zM115 58h2v14h-2zM114 65h1v2h-1zM117 59h1v2h-1zM117 58h2v8h-2zM116 65h1v2h-1zM119 61h1v2h-1zM119 56h2v8h-2zM118 62h1v2h-1zM121 57h1v2h-1zM120 53h2v8h-2zM119 59h1v2h-1zM122 55h1v2h-1zM122 53h2v8h-2zM121 55h1v2h-1zM124 60h1v2h-1zM123 57h2v9h-2zM122 57h1v2h-1zM125 65h1v2h-1zM125 61h2v8h-2zM124 63h1v2h-1zM127 65h1v2h-1zM126 64h2v17h-2zM125 66h1v2h-1zM128 80h1v2h-1zM128 70h2v13h-2zM127 70h1v2h-1zM130 73h1v2h-1zM129 72h2v8h-2zM128 77h1v2h-1zM131 77h1v2h-1zM131 74h2v8h-2zM130 75h1v2h-1zM133 76h1v2h-1zM132 66h2v15h-2zM131 79h1v2h-1zM134 67h1v2h-1zM134 59h2v13h-2zM133 70h1v2h-1zM136 59h1v2h-1zM135 55h2v9h-2zM134 62h1v2h-1zM137 58h1v2h-1zM137 55h2v8h-2zM136 56h1v2h-1zM139 61h1v2h-1zM138 56h2v9h-2zM137 60h1v2h-1zM140 63h1v2h-1zM140 56h2v13h-2zM139 57h1v2h-1zM142 65h1v2h-1zM141 63h2v10h-2zM140 66h1v2h-1zM143 72h1v2h-1zM143 64h2v10h-2zM142 64h1v2h-1zM145 72h1v2h-1zM145 67h2v8h-2zM144 72h1v2h-1zM147 73h1v2h-1zM146 68h2v17h-2zM145 69h1v2h-1zM148 78h1v2h-1zM148 74h2v10h-2zM147 83h1v2h-1zM150 77h1v2h-1zM149 67h2v13h-2zM148 74h1v2h-1zM151 68h1v2h-1zM151 66h2v8h-2zM150 72h1v2h-1zM153 71h1v2h-1zM152 64h2v9h-2zM151 70h1v2h-1zM154 65h1v2h-1zM154 62h2v8h-2zM153 67h1v2h-1zM156 66h1v2h-1zM155 63h2v8h-2zM154 65h1v2h-1zM157 66h1v2h-1zM157 58h2v11h-2zM156 67h1v2h-1zM159 59h1v2h-1zM158 58h2v8h-2zM157 61h1v2h-1zM160 64h1v2h-1zM160 61h2v9h-2zM159 62h1v2h-1zM162 69h1v2h-1zM161 58h2v14h-2zM160 65h1v2h-1zM163 58h1v2h-1zM163 55h2v11h-2zM162 64h1v2h-1zM165 55h1v2h-1zM164 49h2v10h-2zM163 58h1v2h-1zM166 49h1v2h-1zM166 45h2v8h-2zM165 52h1v2h-1zM168 48h1v2h-1zM167 45h2v8h-2zM166 46h1v2h-1zM169 51h1v2h-1zM169 48h2v8h-2zM168 49h1v2h-1zM171 53h1v2h-1zM171 48h2v8h-2zM170 53h1v2h-1zM173 50h1v2h-1zM172 48h2v8h-2zM171 51h1v2h-1zM174 54h1v2h-1zM174 49h2v12h-2zM173 50h1v2h-1zM176 59h1v2h-1zM175 55h2v8h-2zM174 59h1v2h-1zM177 57h1v2h-1zM177 56h2v14h-2zM176 58h1v2h-1zM179 68h1v2h-1zM178 62h2v14h-2zM177 62h1v2h-1zM180 73h1v2h-1zM180 71h2v29h-2zM179 74h1v2h-1zM182 95h1v2h-1zM181 86h2v14h-2zM180 87h1v2h-1zM183 87h1v2h-1zM183 83h2v14h-2zM182 89h1v2h-1zM185 95h1v2h-1zM184 83h2v23h-2zM183 84h1v2h-1zM186 99h1v2h-1zM186 92h2v12h-2zM185 103h1v2h-1zM188 93h1v2h-1zM187 87h2v21h-2zM186 97h1v2h-1zM189 106h1v2h-1zM189 91h2v24h-2zM188 92h1v2h-1zM191 94h1v2h-1zM190 94h2v13h-2zM189 105h1v2h-1zM192 99h1v2h-1zM192 75h2v28h-2zM191 95h1v2h-1zM194 76h1v2h-1zM193 74h2v23h-2zM192 91h1v2h-1zM195 96h1v2h-1zM195 88h2v9h-2zM194 89h1v2h-1zM197 95h1v2h-1zM196 94h2v20h-2zM195 96h1v2h-1zM198 112h1v2h-1zM198 102h2v12h-2zM197 106h1v2h-1zM200 102h1v2h-1zM200 94h2v29h-2zM199 107h1v2h-1zM202 114h1v2h-1zM201 104h2v42h-2zM200 114h1v2h-1zM203 118h1v2h-1zM203 118h2v11h-2zM202 127h1v2h-1zM205 118h1v2h-1zM204 102h2v21h-2zM203 120h1v2h-1zM206 104h1v2h-1zM206 101h2v8h-2zM205 105h1v2h-1zM208 104h1v2h-1zM207 94h2v13h-2zM206 106h1v2h-1zM209 95h1v2h-1zM209 92h2v8h-2zM208 95h1v2h-1zM211 96h1v2h-1zM210 88h2v10h-2zM209 96h1v2h-1zM212 88h1v2h-1zM212 86h2v11h-2zM211 95h1v2h-1zM214 96h1v2h-1zM213 89h2v8h-2zM212 93h1v2h-1zM215 94h1v2h-1zM215 89h2v22h-2zM214 92h1v2h-1zM217 98h1v2h-1zM216 88h2v22h-2zM215 108h1v2h-1zM218 89h1v2h-1zM218 84h2v11h-2zM217 94h1v2h-1zM220 86h1v2h-1zM219 83h2v8h-2zM218 85h1v2h-1zM221 88h1v2h-1zM221 77h2v14h-2zM220 86h1v2h-1zM223 79h1v2h-1zM222 77h2v11h-2zM221 83h1v2h-1zM224 85h1v2h-1zM224 81h2v18h-2zM223 87h1v2h-1zM226 94h1v2h-1zM226 86h2v13h-2zM225 93h1v2h-1zM228 91h1v2h-1zM227 86h2v24h-2zM226 91h1v2h-1zM229 91h1v2h-1zM229 88h2v17h-2zM228 103h1v2h-1zM231 89h1v2h-1zM230 84h2v8h-2zM229 90h1v2h-1zM232 85h1v2h-1zM232 81h2v8h-2zM231 87h1v2h-1zM234 82h1v2h-1zM233 78h2v8h-2zM232 84h1v2h-1zM235 81h1v2h-1zM235 62h2v26h-2zM234 80h1v2h-1zM237 65h1v2h-1zM236 60h2v17h-2zM235 75h1v2h-1zM238 61h1v2h-1zM238 54h2v13h-2zM237 65h1v2h-1zM240 59h1v2h-1zM239 55h2v9h-2zM238 55h1v2h-1zM241 62h1v2h-1zM241 57h2v8h-2zM240 63h1v2h-1zM243 63h1v2h-1zM242 58h2v15h-2zM241 59h1v2h-1zM244 67h1v2h-1zM244 62h2v11h-2zM243 71h1v2h-1zM246 63h1v2h-1zM245 60h2v8h-2zM244 63h1v2h-1zM247 64h1v2h-1zM247 58h2v8h-2zM246 64h1v2h-1zM249 58h1v2h-1zM248 56h2v8h-2zM247 61h1v2h-1zM250 58h1v2h-1zM250 54h2v8h-2zM249 58h1v2h-1zM252 57h1v2h-1zM252 49h2v11h-2zM251 58h1v2h-1zM254 50h1v2h-1zM253 48h2v8h-2zM252 52h1v2h-1zM255 51h1v2h-1zM255 47h2v8h-2zM254 50h1v2h-1zM257 51h1v2h-1zM256 42h2v11h-2zM255 51h1v2h-1zM258 43h1v2h-1zM258 42h2v8h-2zM257 48h1v2h-1zM260 44h1v2h-1zM259 43h2v8h-2zM258 44h1v2h-1zM261 48h1v2h-1zM261 33h2v18h-2zM260 47h1v2h-1zM263 40h1v2h-1zM262 33h2v13h-2zM261 34h1v2h-1zM264 43h1v2h-1zM264 41h2v16h-2zM263 45h1v2h-1zM266 55h1v2h-1zM265 47h2v10h-2zM264 47h1v2h-1zM267 52h1v2h-1zM267 47h2v8h-2zM266 52h1v2h-1zM269 49h1v2h-1zM268 48h2v15h-2zM267 50h1v2h-1zM270 62h1v2h-1zM270 56h2v8h-2zM269 56h1v2h-1zM272 62h1v2h-1zM271 61h2v21h-2zM270 63h1v2h-1zM273 77h1v2h-1zM273 69h2v13h-2zM272 76h1v2h-1zM275 69h1v2h-1zM274 64h2v15h-2zM273 72h1v2h-1zM276 78h1v2h-1zM276 65h2v17h-2zM275 67h1v2h-1zM278 65h1v2h-1zM277 53h2v19h-2zM276 70h1v2h-1zM279 54h1v2h-1zM279 51h2v10h-2zM278 60h1v2h-1zM281 56h1v2h-1zM281 53h2v10h-2zM280 53h1v2h-1zM283 62h1v2h-1zM282 54h2v15h-2zM281 58h1v2h-1zM284 54h1v2h-1zM284 47h2v20h-2zM283 65h1v2h-1zM286 63h1v2h-1zM285 53h2v25h-2zM284 54h1v2h-1zM287 76h1v2h-1zM287 68h2v14h-2zM286 69h1v2h-1zM289 75h1v2h-1zM288 64h2v16h-2zM287 78h1v2h-1zM290 71h1v2h-1zM290 64h2v25h-2zM289 70h1v2h-1zM292 85h1v2h-1zM291 83h2v9h-2zM290 87h1v2h-1zM293 91h1v2h-1zM293 83h2v22h-2zM292 84h1v2h-1zM295 95h1v2h-1zM294 86h2v15h-2zM293 100h1v2h-1zM296 98h1v2h-1zM296 86h2v22h-2zM295 88h1v2h-1zM298 92h1v2h-1zM297 80h2v19h-2zM296 97h1v2h-1zM299 86h1v2h-1zM299 80h2v21h-2zM298 90h1v2h-1zM301 100h1v2h-1zM300 93h2v15h-2zM299 94h1v2h-1zM302 106h1v2h-1zM302 102h2v8h-2zM301 106h1v2h-1zM304 104h1v2h-1zM303 100h2v8h-2zM302 105h1v2h-1zM305 106h1v2h-1zM305 100h2v20h-2zM304 101h1v2h-1zM307 115h1v2h-1zM307 112h2v8h-2zM306 118h1v2h-1zM309 115h1v2h-1zM308 112h2v14h-2zM307 112h1v2h-1zM310 121h1v2h-1zM310 102h2v24h-2zM309 122h1v2h-1zM312 103h1v2h-1zM311 89h2v23h-2zM310 110h1v2h-1zM313 89h1v2h-1zM313 87h2v10h-2zM312 95h1v2h-1zM315 91h1v2h-1zM314 88h2v8h-2zM313 89h1v2h-1zM316 93h1v2h-1zM316 84h2v12h-2zM315 91h1v2h-1zM318 84h1v2h-1zM317 81h2v12h-2zM316 92h1v2h-1zM319 82h1v2h-1zM319 78h2v8h-2zM318 82h1v2h-1zM321 80h1v2h-1zM320 70h2v15h-2zM319 83h1v2h-1zM322 75h1v2h-1zM322 71h2v9h-2zM321 71h1v2h-1zM324 79h1v2h-1zM323 72h2v11h-2zM322 76h1v2h-1zM325 73h1v2h-1zM325 63h2v19h-2zM324 80h1v2h-1zM327 69h1v2h-1zM326 63h2v16h-2zM325 64h1v2h-1zM328 77h1v2h-1zM328 73h2v8h-2zM327 76h1v2h-1zM330 78h1v2h-1zM329 75h2v17h-2zM328 76h1v2h-1zM331 90h1v2h-1zM331 85h2v22h-2zM330 86h1v2h-1zM333 106h1v2h-1zM333 98h2v13h-2zM332 99h1v2h-1zM335 102h1v2h-1zM334 97h2v11h-2zM333 106h1v2h-1zM336 99h1v2h-1zM336 87h2v17h-2zM335 97h1v2h-1zM338 88h1v2h-1zM337 87h2v10h-2zM336 96h1v2h-1zM339 89h1v2h-1zM339 86h2v8h-2zM338 89h1v2h-1zM341 90h1v2h-1zM340 76h2v16h-2zM339 90h1v2h-1zM342 76h1v2h-1zM342 75h2v12h-2zM341 82h1v2h-1zM344 85h1v2h-1zM343 80h2v8h-2zM342 81h1v2h-1zM345 85h1v2h-1zM345 81h2v8h-2zM344 86h1v2h-1zM347 85h1v2h-1zM346 83h2v13h-2zM345 84h1v2h-1zM348 95h1v2h-1zM348 90h2v8h-2zM347 91h1v2h-1zM350 95h1v2h-1zM349 90h2v26h-2zM348 94h1v2h-1zM351 109h1v2h-1zM351 103h2v16h-2zM350 113h1v2h-1zM353 118h1v2h-1zM352 103h2v27h-2zM351 105h1v2h-1zM354 121h1v2h-1zM354 112h2v30h-2zM353 123h1v2h-1zM356 140h1v2h-1zM355 117h2v25h-2zM354 117h1v2h-1zM357 128h1v2h-1zM357 114h2v20h-2zM356 125h1v2h-1zM359 116h1v2h-1zM358 114h2v15h-2zM357 126h1v2h-1zM360 124h1v2h-1zM360 119h2v26h-2zM359 128h1v2h-1zM362 141h1v2h-1zM362 131h2v25h-2zM361 132h1v2h-1zM364 154h1v2h-1zM363 131h2v41h-2zM362 137h1v2h-1zM365 170h1v2h-1zM365 158h2v18h-2zM364 158h1v2h-1zM367 171h1v2h-1zM366 160h2v15h-2zM365 173h1v2h-1zM368 162h1v2h-1zM368 160h2v38h-2zM367 167h1v2h-1zM370 180h1v2h-1zM369 162h2v36h-2zM368 193h1v2h-1zM371 162h1v2h-1zM371 145h2v24h-2zM370 167h1v2h-1zM373 146h1v2h-1zM372 145h2v11h-2zM371 152h1v2h-1zM374 154h1v2h-1zM374 150h2v12h-2zM373 151h1v2h-1zM376 161h1v2h-1zM375 144h2v21h-2zM374 155h1v2h-1zM377 145h1v2h-1zM377 144h2v10h-2zM376 153h1v2h-1zM379 149h1v2h-1zM378 148h2v9h-2zM377 149h1v2h-1zM380 148h1v2h-1zM380 131h2v26h-2zM379 154h1v2h-1zM382 140h1v2h-1zM381 131h2v18h-2zM380 131h1v2h-1zM383 143h1v2h-1zM383 141h2v22h-2zM382 148h1v2h-1zM385 157h1v2h-1zM384 153h2v9h-2zM383 161h1v2h-1zM386 154h1v2h-1zM386 152h2v19h-2zM385 156h1v2h-1zM388 169h1v2h-1zM388 159h2v14h-2zM387 160h1v2h-1zM390 159h1v2h-1zM389 157h2v10h-2zM388 166h1v2h-1zM391 159h1v2h-1zM391 144h2v18h-2zM390 158h1v2h-1zM393 146h1v2h-1zM392 144h2v10h-2zM391 152h1v2h-1zM394 153h1v2h-1zM394 145h2v9h-2zM393 153h1v2h-1zM396 146h1v2h-1zM395 144h2v17h-2zM394 149h1v2h-1zM397 159h1v2h-1zM397 152h2v11h-2zM396 152h1v2h-1zM399 156h1v2h-1zM398 148h2v12h-2zM397 159h1v2h-1zM400 148h1v2h-1zM400 144h2v25h-2zM399 155h1v2h-1zM402 158h1v2h-1zM401 144h2v25h-2zM400 160h1v2h-1zM403 145h1v2h-1zM403 134h2v16h-2zM402 149h1v2h-1zM405 136h1v2h-1zM404 134h2v15h-2zM403 138h1v2h-1zM406 148h1v2h-1zM406 142h2v8h-2zM405 143h1v2h-1zM408 144h1v2h-1zM407 142h2v27h-2zM406 147h1v2h-1zM409 162h1v2h-1zM409 159h2v9h-2zM408 167h1v2h-1zM411 160h1v2h-1zM410 158h2v19h-2zM409 161h1v2h-1zM412 175h1v2h-1zM412 165h2v13h-2zM411 166h1v2h-1zM414 173h1v2h-1zM414 162h2v14h-2zM413 174h1v2h-1zM416 163h1v2h-1zM415 161h2v36h-2zM414 169h1v2h-1zM417 193h1v2h-1zM417 179h2v18h-2zM416 182h1v2h-1zM419 180h1v2h-1zM418 168h2v15h-2zM417 182h1v2h-1zM420 171h1v2h-1zM420 168h2v27h-2zM419 173h1v2h-1zM422 190h1v2h-1zM421 183h2v12h-2zM420 188h1v2h-1zM423 183h1v2h-1zM423 166h2v19h-2zM422 183h1v2h-1zM425 176h1v2h-1zM424 166h2v40h-2zM423 172h1v2h-1zM426 192h1v2h-1zM426 178h2v28h-2zM425 202h1v2h-1zM428 179h1v2h-1zM427 173h2v13h-2zM426 178h1v2h-1zM429 173h1v2h-1zM429 158h2v28h-2zM428 184h1v2h-1zM431 163h1v2h-1zM430 159h2v8h-2zM429 159h1v2h-1zM432 166h1v2h-1zM432 156h2v12h-2zM431 165h1v2h-1zM434 156h1v2h-1zM433 149h2v18h-2zM432 166h1v2h-1zM435 158h1v2h-1zM435 152h2v9h-2zM434 153h1v2h-1zM437 155h1v2h-1zM436 152h2v13h-2zM435 159h1v2h-1zM438 164h1v2h-1zM438 153h2v17h-2zM437 155h1v2h-1zM440 154h1v2h-1zM439 146h2v17h-2zM438 162h1v2h-1zM441 147h1v2h-1zM441 138h2v15h-2zM440 151h1v2h-1zM443 140h1v2h-1zM443 138h2v8h-2zM442 141h1v2h-1zM445 143h1v2h-1zM444 141h2v8h-2zM443 142h1v2h-1zM446 148h1v2h-1zM446 134h2v15h-2zM445 145h1v2h-1zM448 139h1v2h-1zM447 134h2v12h-2zM446 137h1v2h-1zM449 144h1v2h-1zM449 141h2v9h-2zM448 144h1v2h-1zM451 148h1v2h-1zM450 142h2v13h-2zM449 142h1v2h-1zM452 152h1v2h-1zM452 148h2v8h-2zM451 153h1v2h-1zM454 149h1v2h-1zM453 146h2v16h-2zM452 152h1v2h-1zM455 161h1v2h-1zM455 149h2v19h-2zM454 149h1v2h-1zM457 154h1v2h-1zM456 153h2v10h-2zM455 161h1v2h-1zM458 154h1v2h-1zM458 149h2v8h-2zM457 153h1v2h-1zM460 149h1v2h-1zM459 143h2v12h-2zM458 154h1v2h-1zM461 144h1v2h-1zM461 138h2v8h-2zM460 144h1v2h-1zM463 139h1v2h-1zM462 130h2v16h-2zM461 145h1v2h-1zM464 135h1v2h-1zM464 131h2v8h-2zM463 131h1v2h-1zM466 136h1v2h-1zM465 133h2v12h-2zM464 138h1v2h-1zM467 143h1v2h-1zM467 134h2v11h-2zM466 136h1v2h-1zM469 134h1v2h-1zM469 129h2v8h-2zM468 136h1v2h-1zM471 129h1v2h-1zM470 125h2v8h-2zM469 132h1v2h-1zM472 127h1v2h-1zM472 123h2v8h-2zM471 126h1v2h-1zM474 128h1v2h-1zM473 127h2v8h-2zM472 127h1v2h-1zM475 134h1v2h-1zM475 116h2v22h-2zM474 129h1v2h-1zM477 117h1v2h-1zM476 115h2v14h-2zM475 128h1v2h-1zM478 125h1v2h-1zM478 121h2v14h-2zM477 122h1v2h-1zM480 131h1v2h-1zM479 117h2v18h-2zM478 129h1v2h-1zM481 124h1v2h-1zM481 117h2v13h-2zM480 118h1v2h-1zM483 127h1v2h-1zM482 124h2v8h-2zM481 128h1v2h-1zM484 130h1v2h-1zM484 125h2v13h-2zM483 126h1v2h-1zM486 132h1v2h-1zM485 126h2v12h-2zM484 136h1v2h-1zM487 127h1v2h-1zM487 122h2v8h-2zM486 127h1v2h-1zM489 122h1v2h-1zM488 117h2v13h-2zM487 129h1v2h-1zM490 119h1v2h-1zM490 118h2v8h-2zM489 118h1v2h-1zM492 124h1v2h-1zM491 106h2v20h-2zM490 121h1v2h-1zM493 113h1v2h-1zM493 106h2v16h-2zM492 110h1v2h-1zM495 119h1v2h-1zM495 117h2v15h-2zM494 120h1v2h-1zM497 130h1v2h-1zM496 120h2v13h-2zM495 121h1v2h-1zM498 130h1v2h-1zM498 127h2v8h-2zM497 130h1v2h-1zM500 133h1v2h-1zM499 128h2v16h-2zM498 129h1v2h-1zM501 136h1v2h-1zM501 132h2v12h-2zM500 142h1v2h-1zM503 134h1v2h-1zM502 127h2v10h-2zM501 133h1v2h-1zM504 127h1v2h-1zM504 124h2v11h-2zM503 134h1v2h-1zM506 133h1v2h-1zM505 127h2v8h-2zM504 128h1v2h-1zM507 129h1v2h-1zM507 128h2v17h-2zM506 132h1v2h-1zM509 141h1v2h-1zM508 134h2v11h-2zM507 139h1v2h-1zM510 136h1v2h-1zM510 134h2v9h-2zM509 135h1v2h-1zM512 135h1v2h-1zM511 125h2v18h-2zM510 141h1v2h-1zM513 136h1v2h-1zM513 127h2v22h-2zM512 127h1v2h-1zM515 147h1v2h-1zM514 141h2v15h-2zM513 141h1v2h-1zM516 153h1v2h-1zM516 149h2v8h-2zM515 154h1v2h-1zM518 151h1v2h-1zM517 150h2v16h-2zM516 153h1v2h-1zM519 163h1v2h-1zM519 154h2v12h-2zM518 157h1v2h-1zM521 155h1v2h-1zM521 151h2v9h-2zM520 155h1v2h-1zM523 151h1v2h-1zM522 144h2v16h-2zM521 159h1v2h-1zM524 158h1v2h-1zM524 149h2v10h-2zM523 150h1v2h-1zM526 155h1v2h-1zM525 154h2v21h-2zM524 157h1v2h-1zM527 173h1v2h-1zM527 163h2v12h-2zM526 163h1v2h-1zM529 167h1v2h-1zM528 162h2v8h-2zM527 169h1v2h-1zM530 163h1v2h-1zM530 161h2v15h-2zM529 165h1v2h-1zM532 174h1v2h-1zM531 167h2v12h-2zM530 167h1v2h-1zM533 176h1v2h-1zM533 171h2v8h-2zM532 177h1v2h-1zM535 172h1v2h-1zM534 171h2v22h-2zM533 176h1v2h-1zM536 187h1v2h-1zM536 184h2v8h-2zM535 190h1v2h-1zM538 187h1v2h-1zM537 185h2v17h-2zM536 186h1v2h-1zM539 199h1v2h-1zM539 195h2v8h-2zM538 198h1v2h-1zM541 198h1v2h-1zM540 192h2v8h-2zM539 198h1v2h-1zM542 193h1v2h-1zM542 192h2v18h-2zM541 195h1v2h-1zM544 209h1v2h-1zM543 201h2v12h-2zM542 201h1v2h-1zM545 208h1v2h-1zM545 204h2v8h-2zM544 210h1v2h-1zM547 205h1v2h-1zM546 203h2v14h-2zM545 206h1v2h-1zM548 216h1v2h-1zM548 206h2v13h-2zM547 206h1v2h-1zM550 215h1v2h-1zM550 206h2v11h-2zM549 216h1v2h-1zM552 215h1v2h-1zM551 206h2v29h-2zM550 209h1v2h-1zM553 217h1v2h-1zM553 213h2v18h-2zM552 230h1v2h-1zM555 215h1v2h-1zM554 200h2v16h-2zM553 214h1v2h-1zM556 201h1v2h-1zM556 200h2v8h-2zM555 206h1v2h-1zM558 202h1v2h-1zM557 198h2v10h-2zM556 202h1v2h-1zM559 199h1v2h-1zM559 185h2v23h-2zM558 205h1v2h-1zM561 193h1v2h-1zM560 186h2v13h-2zM559 187h1v2h-1zM562 195h1v2h-1zM562 192h2v16h-2zM561 198h1v2h-1zM564 205h1v2h-1zM563 200h2v8h-2zM562 202h1v2h-1zM565 201h1v2h-1zM565 198h2v14h-2zM564 204h1v2h-1zM567 211h1v2h-1zM566 201h2v17h-2zM565 201h1v2h-1zM568 203h1v2h-1zM568 201h2v11h-2zM567 211h1v2h-1zM570 203h1v2h-1zM569 188h2v17h-2zM568 202h1v2h-1zM571 192h1v2h-1zM571 188h2v15h-2zM570 194h1v2h-1zM573 202h1v2h-1zM572 199h2v11h-2zM571 199h1v2h-1zM574 204h1v2h-1zM574 197h2v13h-2zM573 208h1v2h-1zM576 198h1v2h-1zM576 192h2v10h-2zM575 198h1v2h-1zM578 193h1v2h-1zM577 184h2v18h-2zM576 200h1v2h-1zM579 187h1v2h-1zM579 184h2v8h-2zM578 185h1v2h-1zM581 191h1v2h-1zM580 174h2v19h-2zM579 187h1v2h-1zM582 181h1v2h-1zM582 174h2v12h-2zM581 177h1v2h-1zM584 182h1v2h-1zM583 179h2v14h-2zM582 185h1v2h-1zM585 192h1v2h-1zM585 183h2v13h-2zM584 184h1v2h-1zM587 186h1v2h-1zM586 185h2v8h-2zM585 191h1v2h-1zM588 189h1v2h-1zM588 179h2v14h-2zM587 188h1v2h-1zM590 190h1v2h-1zM589 182h2v10h-2zM588 183h1v2h-1zM591 189h1v2h-1zM591 188h2v15h-2zM590 190h1v2h-1zM593 201h1v2h-1zM592 194h2v9h-2zM591 195h1v2h-1zM594 194h1v2h-1zM594 194h2v8h-2zM593 196h1v2h-1zM596 200h1v2h-1zM595 185h2v17h-2zM594 197h1v2h-1zM597 187h1v2h-1zM597 184h2v8h-2zM596 190h1v2h-1zM599 190h1v2h-1zM598 188h2v8h-2zM597 190h1v2h-1zM600 194h1v2h-1zM600 183h2v13h-2zM599 192h1v2h-1zM602 184h1v2h-1zM602 179h2v12h-2zM601 190h1v2h-1zM604 188h1v2h-1zM603 179h2v18h-2zM602 193h1v2h-1zM605 193h1v2h-1zM605 192h2v9h-2zM604 193h1v2h-1zM607 194h1v2h-1zM606 195h2v21h-2zM605 195h1v2h-1zM608 215h1v2h-1zM608 212h2v14h-2zM607 215h1v2h-1zM610 212h1v2h-1zM609 195h2v16h-2zM608 210h1v2h-1zM611 199h1v2h-1zM611 197h2v26h-2zM610 199h1v2h-1zM613 222h1v2h-1zM612 212h2v12h-2zM611 222h1v2h-1zM614 217h1v2h-1zM614 209h2v20h-2zM613 217h1v2h-1zM616 209h1v2h-1zM615 205h2v13h-2zM614 209h1v2h-1zM617 207h1v2h-1zM617 208h2v31h-2zM616 208h1v2h-1zM619 238h1v2h-1zM618 227h2v24h-2zM617 238h1v2h-1zM620 227h1v2h-1zM620 227h2v31h-2zM619 227h1v2h-1zM622 257h1v2h-1zM621 228h2v42h-2zM620 257h1v2h-1zM623 230h1v2h-1zM623 200h2v31h-2zM622 230h1v2h-1zM625 205h1v2h-1zM624 205h2v26h-2zM623 205h1v2h-1zM626 230h1v2h-1zM626 224h2v17h-2zM625 230h1v2h-1zM628 240h1v2h-1zM627 236h2v10h-2zM626 240h1v2h-1zM629 241h1v2h-1zM629 226h2v16h-2zM628 241h1v2h-1zM631 229h1v2h-1zM631 227h2v16h-2zM630 229h1v2h-1zM633 227h1v2h-1zM632 229h2v56h-2zM631 229h1v2h-1zM634 284h1v2h-1zM634 251h2v34h-2zM633 284h1v2h-1zM636 252h1v2h-1zM635 251h2v15h-2zM634 252h1v2h-1zM637 254h1v2h-1zM637 254h2v28h-2zM636 254h1v2h-1zM639 279h1v2h-1zM638 258h2v31h-2zM637 279h1v2h-1zM640 288h1v2h-1zM640 289h2v47h-2zM639 289h1v2h-1zM642 310h1v2h-1zM641 302h2v40h-2zM640 310h1v2h-1zM643 341h1v2h-1zM643 328h2v28h-2zM642 341h1v2h-1zM645 347h1v2h-1zM644 336h2v52h-2zM643 347h1v2h-1zM646 387h1v2h-1zM646 373h2v53h-2zM645 387h1v2h-1zM648 393h1v2h-1zM647 336h2v58h-2zM646 393h1v2h-1zM649 337h1v2h-1zM649 316h2v39h-2zM648 337h1v2h-1zM651 340h1v2h-1zM650 342h2v49h-2zM649 342h1v2h-1zM652 388h1v2h-1zM652 367h2v45h-2zM651 388h1v2h-1zM654 368h1v2h-1zM653 348h2v36h-2zM652 368h1v2h-1zM655 371h1v2h-1zM655 347h2v27h-2zM654 371h1v2h-1zM657 347h1v2h-1zM657 347h2v19h-2zM656 347h1v2h-1zM659 363h1v2h-1zM658 363h2v39h-2zM657 363h1v2h-1zM660 394h1v2h-1zM660 381h2v35h-2zM659 394h1v2h-1zM662 387h1v2h-1zM661 394h2v25h-2zM660 394h1v2h-1zM663 404h1v2h-1zM663 396h2v26h-2zM662 404h1v2h-1zM665 420h1v2h-1zM664 371h2v51h-2zM663 420h1v2h-1zM666 371h1v2h-1zM666 355h2v27h-2zM665 371h1v2h-1zM668 376h1v2h-1zM667 355h2v18h-2zM666 372h1v2h-1zM669 364h1v2h-1zM669 348h2v22h-2zM668 364h1v2h-1zM671 356h1v2h-1zM670 352h2v11h-2zM669 356h1v2h-1zM672 357h1v2h-1zM672 335h2v21h-2zM671 355h1v2h-1zM674 336h1v2h-1zM673 336h2v32h-2zM672 336h1v2h-1zM675 365h1v2h-1zM675 365h2v29h-2zM674 365h1v2h-1zM677 390h1v2h-1zM676 376h2v14h-2zM675 389h1v2h-1zM678 376h1v2h-1zM678 365h2v24h-2zM677 376h1v2h-1zM680 382h1v2h-1zM679 383h2v19h-2zM678 383h1v2h-1zM681 393h1v2h-1zM681 394h2v25h-2zM680 394h1v2h-1zM683 418h1v2h-1zM683 385h2v52h-2zM682 418h1v2h-1zM685 386h1v2h-1zM684 384h2v26h-2zM683 386h1v2h-1zM686 407h1v2h-1zM686 402h2v19h-2zM685 407h1v2h-1zM688 419h1v2h-1zM687 411h2v16h-2zM686 419h1v2h-1zM689 414h1v2h-1zM689 411h2v32h-2zM688 414h1v2h-1zM691 442h1v2h-1zM690 435h2v40h-2zM689 442h1v2h-1zM692 471h1v2h-1zM692 444h2v34h-2zM691 471h1v2h-1zM694 445h1v2h-1zM693 413h2v32h-2zM692 444h1v2h-1zM695 418h1v2h-1zM695 409h2v19h-2zM694 418h1v2h-1zM697 415h1v2h-1zM696 398h2v27h-2zM695 415h1v2h-1zM698 399h1v2h-1zM698 394h2v9h-2zM697 399h1v2h-1zM700 394h1v2h-1zM699 394h2v44h-2zM698 394h1v2h-1zM701 437h1v2h-1zM701 419h2v18h-2zM700 436h1v2h-1zM703 420h1v2h-1zM702 406h2v21h-2zM701 420h1v2h-1zM704 408h1v2h-1zM704 402h2v24h-2zM703 408h1v2h-1zM706 422h1v2h-1zM705 403h2v34h-2zM704 422h1v2h-1zM707 405h1v2h-1zM707 383h2v19h-2zM706 401h1v2h-1zM709 387h1v2h-1zM708 383h2v19h-2zM707 387h1v2h-1zM710 398h1v2h-1zM710 388h2v13h-2zM709 398h1v2h-1zM712 393h1v2h-1zM712 390h2v21h-2zM711 393h1v2h-1zM714 407h1v2h-1zM713 402h2v14h-2zM712 407h1v2h-1zM715 403h1v2h-1zM715 403h2v12h-2zM714 403h1v2h-1zM717 409h1v2h-1zM716 385h2v25h-2zM715 409h1v2h-1zM718 385h1v2h-1zM718 383h2v12h-2zM717 385h1v2h-1zM720 390h1v2h-1zM719 386h2v19h-2zM718 390h1v2h-1zM721 400h1v2h-1zM721 394h2v10h-2zM720 400h1v2h-1zM723 399h1v2h-1zM722 399h2v17h-2zM721 399h1v2h-1zM724 407h1v2h-1zM724 403h2v12h-2zM723 407h1v2h-1zM726 412h1v2h-1zM725 409h2v5h-2zM724 412h1v2h-1zM727 409h1v2h-1zM727 407h2v4h-2zM726 409h1v2h-1zM729 407h1v2h-1zM728 407h2v9h-2zM727 407h1v2h-1zM730 409h1v2h-1zM730 397h2v12h-2zM729 408h1v2h-1zM732 397h1v2h-1zM731 387h2v12h-2zM730 397h1v2h-1zM733 390h1v2h-1zM733 374h2v20h-2zM732 390h1v2h-1zM735 375h1v2h-1zM734 373h2v10h-2zM733 375h1v2h-1zM736 378h1v2h-1zM736 370h2v9h-2zM735 378h1v2h-1zM738 374h1v2h-1zM738 378h2v14h-2zM737 378h1v2h-1zM740 388h1v2h-1zM739 387h2v8h-2zM738 388h1v2h-1zM741 387h1v2h-1zM741 386h2v13h-2zM740 387h1v2h-1zM743 397h1v2h-1zM742 397h2v15h-2zM741 397h1v2h-1zM744 408h1v2h-1zM744 404h2v10h-2zM743 408h1v2h-1zM746 407h1v2h-1zM745 407h2v20h-2zM744 407h1v2h-1zM747 423h1v2h-1zM747 418h2v19h-2zM746 423h1v2h-1zM749 422h1v2h-1zM748 411h2v20h-2zM747 422h1v2h-1zM750 419h1v2h-1zM750 419h2v25h-2zM749 419h1v2h-1zM752 442h1v2h-1zM751 424h2v20h-2zM750 442h1v2h-1zM753 424h1v2h-1zM753 425h2v12h-2zM752 425h1v2h-1zM755 430h1v2h-1zM754 425h2v18h-2zM753 430h1v2h-1zM756 428h1v2h-1zM756 418h2v14h-2zM755 428h1v2h-1zM758 426h1v2h-1zM757 418h2v9h-2zM756 426h1v2h-1zM759 422h1v2h-1zM759 404h2v19h-2zM758 422h1v2h-1zM761 406h1v2h-1zM760 406h2v17h-2zM759 406h1v2h-1zM762 422h1v2h-1zM762 418h2v17h-2zM761 422h1v2h-1zM764 431h1v2h-1zM764 429h2v11h-2zM763 431h1v2h-1zM766 432h1v2h-1zM765 423h2v12h-2zM764 432h1v2h-1zM767 425h1v2h-1zM767 418h2v13h-2zM766 425h1v2h-1zM769 428h1v2h-1zM768 419h2v17h-2zM767 428h1v2h-1zM770 422h1v2h-1zM770 408h2v15h-2zM769 422h1v2h-1zM772 409h1v2h-1zM771 404h2v10h-2zM770 409h1v2h-1zM773 408h1v2h-1zM773 409h2v26h-2zM772 409h1v2h-1zM775 431h1v2h-1zM774 425h2v9h-2zM773 431h1v2h-1zM776 428h1v2h-1zM776 427h2v14h-2zM775 428h1v2h-1zM778 427h1v2h-1zM777 425h2v8h-2zM776 427h1v2h-1zM779 431h1v2h-1zM779 435h2v17h-2zM778 435h1v2h-1zM781 451h1v2h-1zM780 447h2v10h-2zM779 451h1v2h-1zM782 451h1v2h-1zM782 447h2v11h-2zM781 451h1v2h-1zM784 456h1v2h-1zM783 457h2v14h-2zM782 457h1v2h-1zM785 461h1v2h-1zM785 457h2v20h-2zM784 461h1v2h-1zM787 476h1v2h-1zM786 458h2v19h-2zM785 476h1v2h-1zM788 460h1v2h-1zM788 456h2v16h-2zM787 460h1v2h-1zM790 464h1v2h-1zM789 456h2v16h-2zM788 464h1v2h-1zM791 470h1v2h-1zM791 469h2v12h-2zM790 470h1v2h-1zM793 480h1v2h-1zM793 483h2v17h-2zM792 483h1v2h-1zM795 498h1v2h-1zM794 493h2v9h-2zM793 498h1v2h-1zM796 500h1v2h-1zM796 486h2v14h-2zM795 499h1v2h-1zM798 492h1v2h-1zM797 493h2v16h-2zM796 493h1v2h-1zM799 507h1v2h-1zM799 504h2v12h-2zM798 507h1v2h-1zM801 506h1v2h-1zM800 503h2v10h-2zM799 506h1v2h-1zM802 510h1v2h-1zM802 488h2v21h-2zM801 508h1v2h-1zM804 488h1v2h-1zM803 482h2v9h-2zM802 488h1v2h-1zM805 487h1v2h-1zM805 471h2v21h-2zM804 487h1v2h-1zM807 471h1v2h-1zM806 468h2v9h-2zM805 471h1v2h-1zM808 468h1v2h-1zM808 458h2v13h-2zM807 468h1v2h-1zM810 470h1v2h-1zM809 457h2v17h-2zM808 470h1v2h-1zM811 457h1v2h-1zM811 443h2v22h-2zM810 457h1v2h-1zM813 448h1v2h-1zM812 443h2v14h-2zM811 448h1v2h-1zM814 454h1v2h-1zM814 451h2v13h-2zM813 454h1v2h-1zM816 462h1v2h-1zM815 433h2v28h-2zM814 460h1v2h-1zM817 433h1v2h-1zM817 433h2v10h-2zM816 433h1v2h-1zM819 442h1v2h-1zM819 431h2v20h-2zM818 442h1v2h-1zM821 438h1v2h-1zM820 428h2v11h-2zM819 438h1v2h-1zM822 428h1v2h-1zM822 430h2v9h-2zM821 430h1v2h-1zM824 437h1v2h-1zM823 438h2v19h-2zM822 438h1v2h-1zM825 451h1v2h-1zM825 440h2v11h-2zM824 450h1v2h-1zM827 446h1v2h-1zM826 439h2v16h-2zM825 446h1v2h-1zM828 439h1v2h-1zM828 422h2v17h-2zM827 438h1v2h-1zM830 427h1v2h-1zM829 423h2v12h-2zM828 427h1v2h-1zM831 423h1v2h-1zM831 423h2v9h-2zM830 423h1v2h-1zM833 427h1v2h-1zM832 427h2v12h-2zM831 427h1v2h-1zM834 437h1v2h-1zM834 430h2v9h-2zM833 437h1v2h-1zM836 431h1v2h-1zM835 416h2v12h-2zM834 427h1v2h-1zM837 416h1v2h-1zM837 411h2v11h-2zM836 416h1v2h-1zM839 415h1v2h-1zM838 416h2v11h-2zM837 416h1v2h-1zM840 423h1v2h-1zM840 417h2v13h-2zM839 423h1v2h-1zM842 418h1v2h-1zM841 408h2v13h-2zM840 418h1v2h-1zM843 410h1v2h-1zM843 406h2v9h-2zM842 410h1v2h-1zM845 408h1v2h-1zM845 409h2v21h-2zM844 409h1v2h-1zM847 428h1v2h-1zM846 419h2v13h-2zM845 428h1v2h-1zM848 418h1v2h-1zM848 413h2v14h-2zM847 418h1v2h-1zM850 423h1v2h-1zM849 418h2v10h-2zM848 423h1v2h-1zM851 418h1v2h-1zM851 407h2v11h-2zM850 417h1v2h-1zM853 410h1v2h-1z" fill="#000"/>
</g>
<line x1="260.5" y1="33.8" x2="501" y2="148.2" stroke="#E41818" stroke-width="2.4" shape-rendering="auto"/>
<path d="M342.30 187.60C343.30 188.88 345.07 191.78 348.30 195.30C351.53 198.82 357.25 204.92 361.70 208.70C366.15 212.48 370.57 215.67 375.00 218.00C379.43 220.33 384.30 221.77 388.30 222.70C392.30 223.63 395.43 223.72 399.00 223.60C402.57 223.48 405.92 223.15 409.70 222.00C413.48 220.85 417.70 219.25 421.70 216.70C425.70 214.15 429.93 210.27 433.70 206.70C437.47 203.13 442.53 197.20 444.30 195.30" fill="none" stroke="#1414D0" stroke-width="2.8" shape-rendering="auto"/>
<rect x="564" y="35" width="234" height="3" fill="#E00000"/>
<rect x="564" y="514" width="233" height="3" fill="#E00000"/>
<line x1="681.5" y1="36" x2="681.5" y2="514" stroke="#DD0010" stroke-width="3" stroke-dasharray="4 2"/>
<rect x="664" y="267" width="34" height="14" fill="#FFFFFF"/>
<text x="665" y="278" font-size="9.2" fill="#000" textLength="32" lengthAdjust="spacing">-57.8%</text>
<g shape-rendering="auto">
<path d="M414 53H574V75H498L469 127L490 75H414Z" fill="#9A9A9A" opacity="0.55"/>
<path d="M412.5 51.5H572.5V72.5H495.5L467 125L488.5 72.5H412.5Z" fill="#FFFFFF" stroke="#777" stroke-width="1"/>
</g>
<text x="416" y="66.8" font-size="13.4" font-weight="bold" fill="#0E0ECC" textLength="153" lengthAdjust="spacingAndGlyphs">Bear Market Breakout</text>
<path d="M17 29h178v12h-178zM17 41h82.5v21h-82.5zM17 62h89v12.3h-89z" fill="#EEF0F8"/>
<g font-size="9.5">
<path d="M20 31h1v6h-1zM19 32h1v1h-1zM21 35h1v1h-1zM23 34h1v6h-1zM22 38h1v1h-1zM24 38h1v1h-1zM26 31h1v7h-1zM27 34h1v1h-1zM25 36h1v1h-1z" fill="#000"/>
<text x="31.5" y="39" fill="#000" textLength="161" lengthAdjust="spacingAndGlyphs">$SPX (Daily) 866.23 (24 Apr)</text>
<rect x="19" y="45" width="8.5" height="2" fill="#1E5A1E"/>
<text x="29.5" y="49.7" fill="#145214" textLength="69.5" lengthAdjust="spacingAndGlyphs">EMA(20) 836.81</text>
<rect x="19" y="56" width="8.5" height="2" fill="#8A4BE0"/>
<text x="29.5" y="60.2" fill="#7436C4" textLength="69.5" lengthAdjust="spacingAndGlyphs">EMA(50) 821.32</text>
<rect x="19" y="66.5" width="8.5" height="2" fill="#10105A"/>
<text x="29.5" y="71.3" fill="#0C0C50" textLength="75" lengthAdjust="spacingAndGlyphs">EMA(200) 956.59</text>
</g>
<text x="16.8" y="13.7" font-size="13.6" font-weight="bold" fill="#000" textLength="32.4" lengthAdjust="spacingAndGlyphs">$SPX</text>
<text x="53.5" y="13.2" font-size="10.5" fill="#111" textLength="122.7" lengthAdjust="spacingAndGlyphs">S&amp;P 500 Large Cap Index</text>
<text x="181.4" y="13.2" font-size="10.3" fill="#000" textLength="23.2" lengthAdjust="spacingAndGlyphs">INDX</text>
<text x="16" y="25.8" font-size="9.8" fill="#111" textLength="56.8" lengthAdjust="spacingAndGlyphs">24-Apr-2009</text>
<text x="400.0" y="26" font-size="11" font-weight="bold" fill="#111" textLength="28.2" lengthAdjust="spacingAndGlyphs">Open</text>
<text x="431.8" y="26" font-size="9.8" fill="#111" textLength="31.5" lengthAdjust="spacingAndGlyphs">853.91</text>
<text x="470.4" y="26" font-size="11" font-weight="bold" fill="#111" textLength="23.4" lengthAdjust="spacingAndGlyphs">High</text>
<text x="497.8" y="26" font-size="9.8" fill="#111" textLength="32.2" lengthAdjust="spacingAndGlyphs">871.80</text>
<text x="536.7" y="26" font-size="11" font-weight="bold" fill="#111" textLength="23.3" lengthAdjust="spacingAndGlyphs">Low</text>
<text x="563.3" y="26" font-size="9.8" fill="#111" textLength="32.3" lengthAdjust="spacingAndGlyphs">853.91</text>
<text x="602.7" y="26" font-size="11" font-weight="bold" fill="#111" textLength="23.3" lengthAdjust="spacingAndGlyphs">Last</text>
<text x="629.3" y="26" font-size="9.8" fill="#111" textLength="33.4" lengthAdjust="spacingAndGlyphs">866.23</text>
<text x="668.9" y="26" font-size="11" font-weight="bold" fill="#111" textLength="42.2" lengthAdjust="spacingAndGlyphs">Volume</text>
<text x="714.4" y="26" font-size="9.8" fill="#111" textLength="21.2" lengthAdjust="spacingAndGlyphs">6.0B</text>
<text x="742.7" y="26" font-size="11" font-weight="bold" fill="#111" textLength="21.3" lengthAdjust="spacingAndGlyphs">Chg</text>
<text x="767.8" y="26" font-size="9.8" fill="#111" textLength="78.4" lengthAdjust="spacingAndGlyphs">+14.31 (+1.68%)</text>
<path d="M849 25L852.3 20.5L855.6 25Z" fill="#4A3A1A"/>
<text x="767" y="12.5" font-size="10.4" fill="#4A3E28" textLength="89" lengthAdjust="spacingAndGlyphs">&#169; StockCharts.com</text>
</svg></body></html>
